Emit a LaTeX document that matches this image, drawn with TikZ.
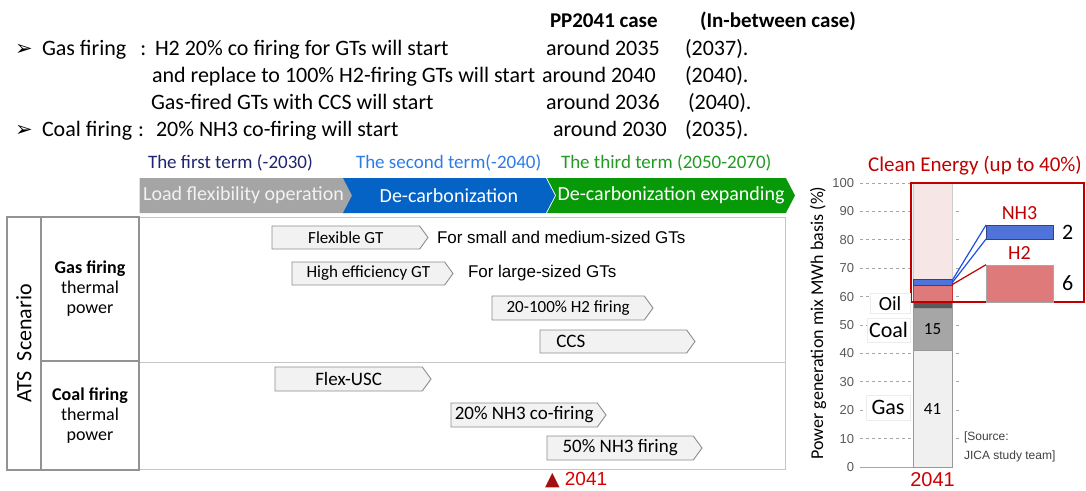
\documentclass[tikz,border=0pt]{standalone}
\usepackage{fontspec}
\setmainfont{Carlito}
\newfontfamily\arialfont{Liberation Sans}
\newfontfamily\symbolfont{DejaVu Sans}
\usetikzlibrary{shapes.symbols,positioning}

\definecolor{navyterm}{HTML}{1F2470}
\definecolor{blueterm}{HTML}{2E7BE6}
\definecolor{greenterm}{HTML}{229A22}
\definecolor{phasegray}{HTML}{A5A5A5}
\definecolor{phaseblue}{HTML}{0563C6}
\definecolor{phasegreen}{HTML}{079907}
\definecolor{cleanred}{HTML}{C00000}
\definecolor{cleanpink}{HTML}{F6E6E6}
\definecolor{hydrored}{HTML}{DE7A7A}
\definecolor{ammoblue}{HTML}{4F73D9}
\definecolor{linkblue}{HTML}{1F4FE0}
\definecolor{markred}{HTML}{A50E0E}

\newcommand{\fsz}[1]{\fontsize{#1}{#1}\selectfont}

\tikzset{
  every node/.style={outer sep=0, inner sep=0},
  headtext/.style={anchor=base west, font=\fsz{22}},
  termtext/.style={anchor=west, font=\fsz{19}},
  phase/.style={signal, signal to=east, signal pointer angle=125, minimum height=35pt, font=\fsz{20}, text=white},
  cell/.style={draw=gray!85, line width=1.2pt, anchor=north west, align=center, font=\fontsize{18}{20}\selectfont},
  plan/.style={draw=gray!45, line width=1pt, anchor=north west},
  techbox/.style={signal, signal to=east, signal pointer angle=108, draw=black!45, line width=0.9pt, fill=gray!10, minimum height=23pt, anchor=west, font=\fsz{17}},
  note/.style={anchor=west, font=\arialfont\fsz{17}},
  gridline/.style={dashed, gray!70, line width=0.8pt},
  ticklabel/.style={anchor=east, font=\arialfont\fsz{13}, text=black!65},
  catlabel/.style={draw=gray!15, fill=white, anchor=east, font=\fsz{22}},
  segment/.style={draw=gray!80, line width=0.8pt}
}

\begin{document}
\begin{tikzpicture}[x=1pt, y=-1pt]
  \useasboundingbox (0,0) rectangle (1086,490);

  % summary lines
  \node[headtext, font=\bfseries\fsz{21}] (ppcase) at (550,27) {PP2041 case};
  \node[headtext, font=\bfseries\fsz{21}] (midcase) at (700,27) {(In-between case)};

  \node[headtext, font=\symbolfont\fsz{21}] (gasbullet) at (15,55) {➢};
  \node[headtext] (gaslead) at (42,55) {Gas firing\hspace{14pt}:};
  \node[headtext] (gasone) at (155,55) {H2 20\% co firing for GTs will start};
  \node[headtext] (gasoneyear) at (546,55) {around 2035};
  \node[headtext] (gasonemid) at (685,55) {(2037).};
  \node[headtext] (gastwo) at (152,82) {and replace to 100\% H2-firing GTs will start};
  \node[headtext] (gastwoyear) at (542,82) {around 2040};
  \node[headtext] (gastwomid) at (685,82) {(2040).};
  \node[headtext] (gasthree) at (151,109) {Gas-fired GTs with CCS will start};
  \node[headtext] (gasthreeyear) at (546,109) {around 2036};
  \node[headtext] (gasthreemid) at (688,109) {(2040).};
  \node[headtext, font=\symbolfont\fsz{21}] (coalbullet) at (15,136) {➢};
  \node[headtext] (coallead) at (42,136) {Coal firing\hspace{6pt}:};
  \node[headtext] (coalone) at (156,136) {20\% NH3 co-firing will start};
  \node[headtext] (coaloneyear) at (553,136) {around 2030};
  \node[headtext] (coalonemid) at (685,136) {(2035).};

  % terms and phases
  \node[termtext, text=navyterm] (termone) at (148,163) {The first term (-2030)};
  \node[termtext, text=blueterm] (termtwo) at (356,163) {The second term(-2040)};
  \node[termtext, text=greenterm] (termthree) at (561,163) {The third term (2050-2070)};

  \node[phase, fill=phasegray, text=white!95!black, minimum width=217pt] (loadflex) at (243.5,195.5) {Load flexibility operation};
  \node[phase, signal from=west, fill=phaseblue, minimum width=212pt] (decarb) at (449,195.5) {De-carbonization};
  \node[phase, signal from=west, fill=phasegreen, minimum width=248pt] (decarbexp) at (671,195.5) {De-carbonization expanding};

  % scenario table
  \node[plan, minimum width=646pt, minimum height=145pt] (gasplan) at (139,217) {};
  \node[plan, minimum width=646pt, minimum height=107pt] (coalplan) at (139,362) {};
  \node[cell, minimum width=34pt, minimum height=253pt] (ats) at (7,217) {};
  \node[rotate=90, font=\fsz{22}] (atslabel) at (ats.center) {ATS\ \ Scenario};
  \draw (ats.north east) node[cell, minimum width=98pt, minimum height=144pt] (gasrow) {\textbf{Gas firing}\\thermal\\power};
  \draw (gasrow.south west) node[cell, minimum width=98pt, minimum height=109pt] (coalrow) {\textbf{Coal firing}\\thermal\\power};

  % gas technologies
  \node[techbox, minimum width=156pt] (flexgt) at (272,237.5) {Flexible GT};
  \node[note, right=9pt of flexgt] (flexgtnote) {For small and medium-sized GTs};
  \node[techbox, minimum width=161pt] (higheff) at (292,273.5) {High efficiency GT};
  \node[note, right=15pt of higheff] (higheffnote) {For large-sized GTs};
  \node[techbox, minimum width=161pt, minimum height=24pt] (htwofire) at (492,308) {20-100\% H2 firing};
  \node[techbox, minimum width=155pt, font=\fsz{19}] (ccs) at (540,341.5) {CCS\hspace*{85pt}};

  % coal technologies
  \node[techbox, minimum width=156pt, minimum height=24pt, font=\fsz{19}] (flexusc) at (275,379) {Flex-USC};
  \node[techbox, minimum width=155pt, minimum height=24pt, font=\fsz{19}] (nhcofire) at (451,415) {20\% NH3 co-firing};
  \node[techbox, minimum width=155pt, minimum height=24pt, font=\fsz{19}] (nhfire) at (547,448) {50\% NH3 firing};

  \node[anchor=west, font=\arialfont\fsz{19}, text=red!85!black] (yearmark) at (545,480) {\textcolor{markred}{\symbolfont\fsz{19}▲} 2041};

  % generation mix chart
  \begin{scope}[shift={(0pt,-467pt)}, y=2.84pt]
    \foreach \v in {10,20,...,100}
      \draw[gridline] (860,\v) -- (960,\v);
    \foreach \v in {0,10,...,100}
      \node[ticklabel] at (854,\v) {\v};
    \draw[gray!70, line width=1pt] (860,0) -- (952,0);

    \draw[fill=cleanpink, draw=gray!40] (913,66) rectangle (952,100);
    \draw[segment, fill=gray!12] (913,0) rectangle (952,41);
    \draw[segment, fill=gray!70] (913,41) rectangle (952,56);
    \draw[segment, fill=black!65] (913,56) rectangle (952,58);
    \draw[segment, draw=cleanred!80, fill=hydrored] (913,58) rectangle (952,64);
    \draw[segment, draw=ammoblue!60!black, fill=ammoblue] (913,64) rectangle (952,66);
    \draw[cleanred, line width=2pt] (911,58) rectangle (1084,100);

    \node[font=\fsz{17}] (coalvalue) at (932.5,48.5) {15};
    \node[font=\fsz{17}] (gasvalue) at (932.5,20.5) {41};
    \node[catlabel, minimum width=40pt, minimum height=20pt, font=\fsz{20}] (oillabel) at (910,57.7) {Oil};
    \node[catlabel, minimum width=43pt, minimum height=24pt] (coallabel) at (910,48.2) {Coal};
    \node[catlabel, minimum width=44pt, minimum height=25pt] (gaslabel) at (910,21) {Gas};

    \node[draw=ammoblue!60!black, fill=ammoblue, minimum width=67pt, minimum height=14pt, anchor=north west] (nhinset) at (986,85.2) {};
    \node[draw=gray!70, fill=hydrored, minimum width=67pt, minimum height=37pt, anchor=south west] (htinset) at (986,58.2) {};
    \coordinate (nhtop) at (952,65.6);
    \coordinate (nhlow) at (952,64.8);
    \coordinate (httop) at (952,64.2);
    \draw[linkblue, line width=1.2pt] (nhtop) -- (nhinset.north west);
    \draw[linkblue, line width=1.2pt] (nhlow) -- (nhinset.south west);
    \draw[cleanred, line width=1.2pt] (httop) -- (htinset.north west);

    \node[above=5pt of nhinset, font=\fsz{20}, text=cleanred] (nhname) {NH3};
    \node[above=5pt of htinset, font=\fsz{20}, text=cleanred] (htname) {H2};
    \node[right=9pt of nhinset, font=\fsz{22}] (nhvalue) {2};
    \node[right=9pt of htinset, font=\fsz{22}] (htvalue) {6};

    \node[font=\fsz{21}, text=cleanred] (cleanlabel) at (975,106) {Clean Energy (up to 40\%)};
    \node[rotate=90, font=\fsz{18}] (axistitle) at (818,50.7) {Power generation mix MWh basis (\%)};
    \node[anchor=west, align=left, font=\arialfont\fontsize{12}{19}\selectfont, text=black!75] (source) at (964,7.2) {[Source:\\JICA study team]};
    \node[font=\arialfont\fsz{20}, text=red!80!black] (baryear) at (932.5,-4.6) {2041};
  \end{scope}
\end{tikzpicture}
\end{document}
